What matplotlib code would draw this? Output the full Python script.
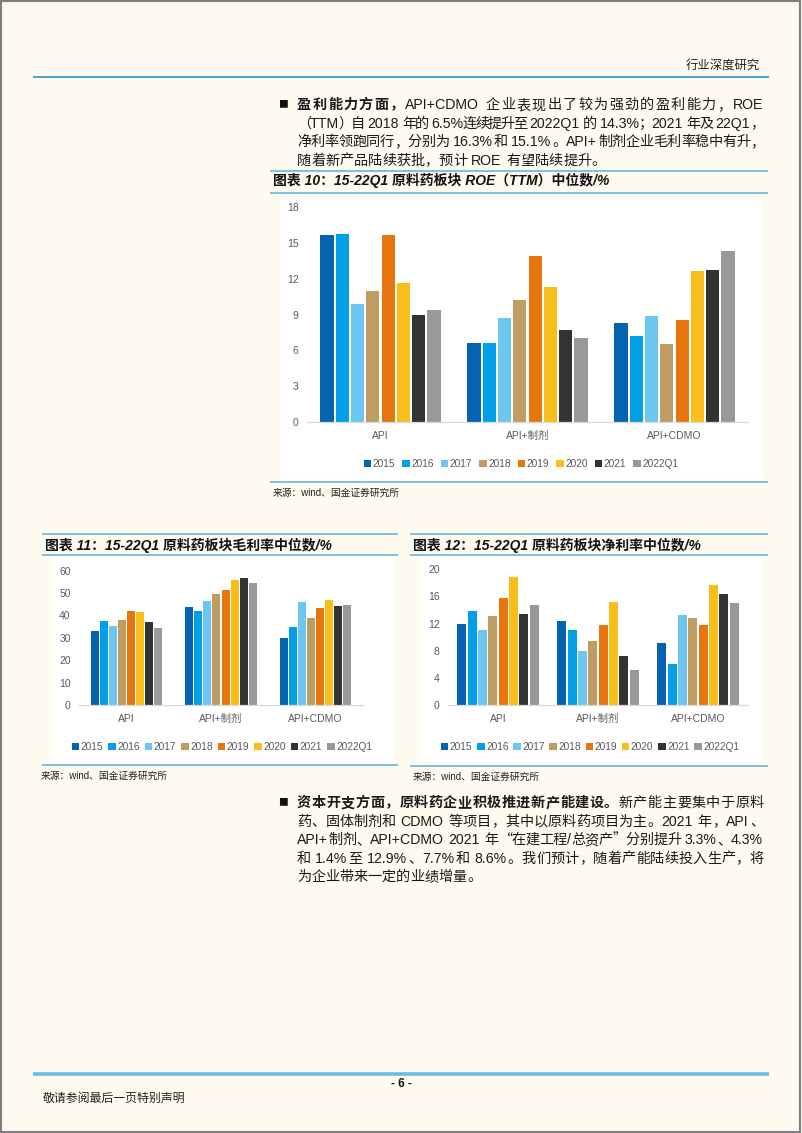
import matplotlib
matplotlib.use('Agg')
import matplotlib.pyplot as plt
from matplotlib.patches import Rectangle, Patch
from matplotlib.lines import Line2D
import numpy as np

# ---------------- data ----------------
categories = ['API', 'API+制剂', 'API+CDMO']
series = ['2015', '2016', '2017', '2018', '2019', '2020', '2021', '2022Q1']
colors = ['#0563B0', '#009FE8', '#6CC6F0', '#BE9C62', '#E8760F', '#FABE1B', '#333333', '#999999']

roe_api = [15.6, 15.7, 9.9, 11.0, 15.6, 11.6, 9.0, 9.4]
roe_api_zj = [6.6, 6.6, 8.7, 10.2, 13.9, 11.3, 7.7, 7.0]
roe_api_cdmo = [8.3, 7.2, 8.9, 6.5, 8.5, 12.6, 12.7, 14.3]

gm_api = [32.9, 37.4, 35.3, 37.8, 42.0, 41.4, 36.9, 34.5]
gm_api_zj = [43.6, 42.1, 46.4, 49.4, 51.2, 55.8, 56.7, 54.6]
gm_api_cdmo = [29.9, 35.0, 45.9, 38.9, 43.3, 46.9, 44.1, 44.5]

nm_api = [12.0, 13.8, 11.1, 13.1, 15.7, 18.8, 13.4, 14.7]
nm_api_zj = [12.4, 11.1, 8.0, 9.4, 11.8, 15.2, 7.2, 5.2]
nm_api_cdmo = [9.2, 6.1, 13.3, 12.8, 11.8, 17.7, 16.3, 15.1]

title10 = '图表 10：15-22Q1 原料药板块 ROE（TTM）中位数/%'
title11 = '图表 11：15-22Q1 原料药板块毛利率中位数/%'
title12 = '图表 12：15-22Q1 原料药板块净利率中位数/%'
source_text = '来源：wind、国金证券研究所'

para1 = [
    [('盈利能力方面，', True), ('API+CDMO 企业表现出了较为强劲的盈利能力，ROE', False)],
    [('（TTM）自 2018 年的 6.5%连续提升至 2022Q1 的 14.3%；2021 年及 22Q1，', False)],
    [('净利率领跑同行，分别为 16.3%和 15.1%。API+制剂企业毛利率稳中有升，', False)],
    [('随着新产品陆续获批，预计 ROE 有望陆续提升。', False)],
]
para2 = [
    [('资本开支方面，原料药企业积极推进新产能建设。', True), ('新产能主要集中于原料', False)],
    [('药、固体制剂和 CDMO 等项目，其中以原料药项目为主。2021 年，API、', False)],
    [('API+制剂、API+CDMO 2021 年“在建工程/总资产”分别提升 3.3%、4.3%', False)],
    [('和 1.4%至 12.9%、7.7%和 8.6%。我们预计，随着产能陆续投入生产，将', False)],
    [('为企业带来一定的业绩增量。', False)],
]

# ---------------- figure ----------------
W, H = 802, 1133
fig = plt.figure(figsize=(W / 100, H / 100), dpi=100)
fig.patch.set_facecolor('#FEFAF0')
renderer = fig.canvas.get_renderer()

CJK = 'Noto Sans CJK SC'
LAT = 'Liberation Sans'
MIX = [LAT, CJK]


def fx(x):
    return x / W


def fy(y):
    return 1 - y / H


def hline(x0, x1, y, color, lw):
    fig.add_artist(Line2D([fx(x0), fx(x1)], [fy(y), fy(y)], transform=fig.transFigure,
                          color=color, lw=lw, solid_capstyle='butt'))


# page border
fig.add_artist(Rectangle((0.001, 0.001), 0.997, 0.998, transform=fig.transFigure,
                         fill=False, edgecolor='#7F7F7F', lw=1.5))

# header / footer
fig.text(fx(760), fy(66), '行业深度研究', fontsize=8.9, family=CJK, ha='right', va='center', color='#222222')
hline(33, 769, 76.5, '#3D98D3', 1.3)
hline(33, 769, 1074, '#6BBDE8', 2.6)
fig.text(fx(401), fy(1084), '- 6 -', fontsize=8.5, family=LAT, weight='bold', ha='center', va='center', color='#111111')
fig.text(fx(43), fy(1098), '敬请参阅最后一页特别声明', fontsize=8.6, family=CJK, ha='left', va='center', color='#222222')


# ---------------- justified paragraph text ----------------
def tokenize(segments):
    toks = []
    for text, bold in segments:
        buf = ''
        sp = False
        for ch in text:
            if ch == ' ':
                if buf:
                    toks.append((buf, bold, sp))
                    buf = ''
                    sp = False
                sp = True
            elif ord(ch) < 128:
                buf += ch
            else:
                if buf:
                    toks.append((buf, bold, sp))
                    buf = ''
                    sp = False
                toks.append((ch, bold, sp))
                sp = False
        if buf:
            toks.append((buf, bold, sp))
    return toks


def draw_line(x0, yc, segments, x1=None, fs=10.2, color='#1A1A1A'):
    toks = tokenize(segments)
    em = fs * 100 / 72
    objs, widths = [], []
    for txt, bold, sp in toks:
        fam = LAT if txt.isascii() else CJK
        t = fig.text(0, 0, txt, fontsize=fs, family=fam, weight='bold' if bold else 'normal',
                     color=color, va='baseline', ha='left')
        if txt.isascii():
            w = t.get_window_extent(renderer).width + 0.08 * em
        else:
            w = em
        objs.append(t)
        widths.append(w)
    gaps = [0.28 * em if tok[2] else 0.0 for tok in toks[1:]]
    total = sum(widths) + sum(gaps)
    extra = 0.0
    if x1 is not None and len(toks) > 1:
        extra = (x1 - x0 - total) / (len(toks) - 1)
    x = x0
    yb = yc + 0.36 * em
    for i, (t, w) in enumerate(zip(objs, widths)):
        if i > 0:
            x += gaps[i - 1] + extra
        t.set_position((fx(x), fy(yb)))
        x += w


def draw_para(lines, ys, x0=297, x1=764):
    fig.text(fx(283), fy(ys[0]), '■', fontsize=7, family=CJK, ha='center', va='center', color='#111111')
    for k, (segs, y) in enumerate(zip(lines, ys)):
        draw_line(x0, y, segs, x1 if k < len(lines) - 1 else None)


draw_para(para1, [104, 122.5, 141, 159.5])
draw_para(para2, [802, 820.5, 839, 857.5, 876])


# ---------------- charts ----------------
def bar_chart(title, title_xy, lines_x, y_title_top, y_title_bot, y_src_line, src_xy,
              bg_box, ax_box, vals_by_cat, ymax, ystep, step, width, legend_xy, colspacing):
    # title block
    hline(lines_x[0], lines_x[1], y_title_top, '#7CC1DF', 1.4)
    hline(lines_x[0], lines_x[1], y_title_bot, '#7CC1DF', 1.4)
    fig.text(fx(title_xy[0]), fy(title_xy[1]), title, fontsize=10, family=MIX, weight='bold',
             style='italic', ha='left', va='center', color='#111111')
    hline(lines_x[0], lines_x[1], y_src_line, '#7CC1DF', 1.4)
    fig.text(fx(src_xy[0]), fy(src_xy[1]), source_text, fontsize=7, family=MIX, ha='left',
             va='center', color='#222222')
    # white chart background
    l, t, r, b = bg_box
    fig.add_artist(Rectangle((fx(l), fy(b)), (r - l) / W, (b - t) / H, transform=fig.transFigure,
                             facecolor='white', edgecolor='none', zorder=-1))
    l, t, r, b = ax_box
    ax = fig.add_axes([fx(l), fy(b), (r - l) / W, (b - t) / H])
    ax.set_facecolor('none')
    x = np.arange(len(categories))
    handles = []
    for i, s in enumerate(series):
        vals = [v[i] for v in vals_by_cat]
        ax.bar(x + (i - 3.5) * step, vals, width, color=colors[i], zorder=2)
        handles.append(Patch(facecolor=colors[i], edgecolor='none', label=s))
    ax.set_xlim(-0.5, len(categories) - 0.5)
    ax.set_ylim(0, ymax)
    ax.set_yticks(np.arange(0, ymax + 0.01, ystep))
    ax.set_xticks(x)
    ax.set_xticklabels(categories)
    for sp in ['top', 'right', 'left']:
        ax.spines[sp].set_visible(False)
    ax.spines['bottom'].set_color('#D9D9D9')
    ax.spines['bottom'].set_linewidth(0.9)
    ax.tick_params(axis='both', length=0, labelsize=7.5, labelcolor='#595959')
    ax.tick_params(axis='y', pad=6)
    ax.tick_params(axis='x', pad=6.5)
    for lab in ax.get_xticklabels() + ax.get_yticklabels():
        lab.set_family(MIX)
    ax.legend(handles=handles, loc='center', bbox_to_anchor=(fx(legend_xy[0]), fy(legend_xy[1])),
              bbox_transform=fig.transFigure, ncol=8, frameon=False,
              handlelength=0.75, handleheight=0.75, handletextpad=0.15, columnspacing=colspacing,
              labelcolor='#595959', prop={'family': MIX, 'size': 7.3})
    return ax


bar_chart(title10, (273, 180.5), (270, 768), 171, 193, 482, (273, 492.5),
          (280, 198, 763, 479), (307, 206.7, 748, 422.3),
          [roe_api, roe_api_zj, roe_api_cdmo], 18, 3, 0.104, 0.09, (521, 464), 0.68)

bar_chart(title11, (45, 545), (42, 398), 534, 555, 765, (41, 775.5),
          (52, 557, 393, 762), (79, 570.7, 363, 705),
          [gm_api, gm_api_zj, gm_api_cdmo], 60, 10, 0.096, 0.085, (222, 747), 0.48)

bar_chart(title12, (413, 545), (410, 768), 534, 555, 766, (413, 776.5),
          (420, 557, 762, 762), (448, 569.3, 748, 705),
          [nm_api, nm_api_zj, nm_api_cdmo], 20, 4, 0.103, 0.09, (590, 747), 0.45)

fig.savefig('out.png', dpi=100, facecolor=fig.get_facecolor())
